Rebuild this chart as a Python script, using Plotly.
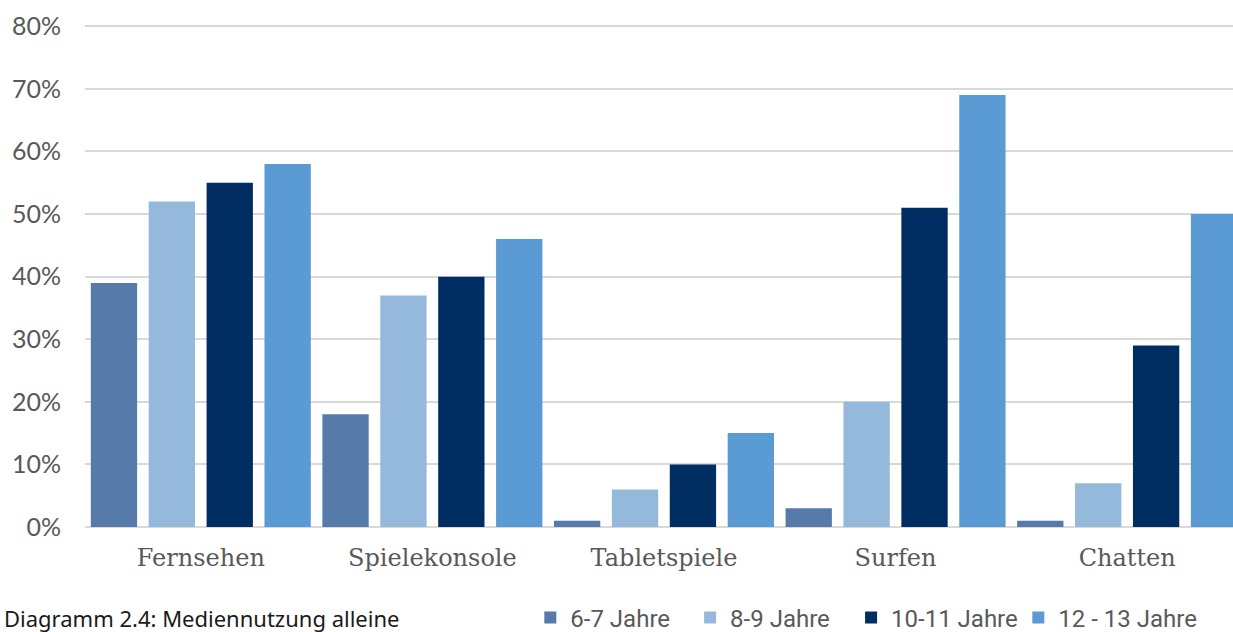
import plotly.graph_objects as go

# Mediennutzung alleine nach Altersgruppe (Anteile in %)
categories = ["Fernsehen", "Spielekonsole", "Tabletspiele", "Surfen", "Chatten"]
age_groups = ["6-7 Jahre", "8-9 Jahre", "10-11 Jahre", "12 - 13 Jahre"]
values_6_7 = [39, 18, 1, 3, 1]
values_8_9 = [52, 37, 6, 20, 7]
values_10_11 = [55, 40, 10, 51, 29]
values_12_13 = [58, 46, 15, 69, 50]
colors = ["#567BAA", "#95B9DB", "#002D62", "#5B9BD5"]
y_ticks = [0, 10, 20, 30, 40, 50, 60, 70, 80]
y_tick_labels = [f"{v}%" for v in y_ticks]

series = [values_6_7, values_8_9, values_10_11, values_12_13]

# one legend box per age group so the entries sit on a fixed spacing
legend_ids = ["legend", "legend2", "legend3", "legend4"]
legend_x = [0.3879, 0.5271, 0.6673, 0.8130]

fig = go.Figure()
for name, vals, col, lid in zip(age_groups, series, colors, legend_ids):
    fig.add_trace(go.Bar(
        x=categories, y=vals, name=name, legend=lid,
        marker=dict(color=col, line=dict(width=0)),
        hovertemplate="%{x}: %{y}%<extra>" + name + "</extra>",
    ))

legend_style = dict(
    orientation="h", y=-0.181, xanchor="left", yanchor="middle",
    font=dict(family="Roboto, sans-serif", size=24, color="#595959"),
    itemwidth=30, bgcolor="rgba(0,0,0,0)",
)
legends = {lid: dict(legend_style, x=lx) for lid, lx in zip(legend_ids, legend_x)}

fig.update_layout(
    width=1233, height=632,
    margin=dict(l=85, r=0, t=25, b=105, autoexpand=False),
    paper_bgcolor="white", plot_bgcolor="white",
    barmode="group", bargap=0, bargroupgap=0.2,
    showlegend=True,
    **legends,
    xaxis=dict(
        range=[-0.5, 4.457], showgrid=False, zeroline=False, showline=False,
        ticks="", ticklabelstandoff=14, automargin=False,
        tickfont=dict(family="DejaVu Serif, serif", size=24, color="#595959"),
    ),
    yaxis=dict(
        range=[0, 80.2], tickvals=y_ticks, ticktext=y_tick_labels,
        showgrid=True, gridcolor="#D9D9D9", gridwidth=1.5,
        zeroline=True, zerolinecolor="#D9D9D9", zerolinewidth=2,
        ticks="", ticklabelstandoff=23, automargin=False,
        tickfont=dict(family="Lato, sans-serif", size=25, color="#595959"),
    ),
    annotations=[dict(
        text="Diagramm 2.4: Mediennutzung alleine",
        xref="paper", yref="paper", x=-0.072, y=-0.182,
        xanchor="left", yanchor="middle", showarrow=False,
        font=dict(family="Noto Sans, sans-serif", size=22, color="#1A1A1A"),
    )],
)

fig.write_html("out.html")
